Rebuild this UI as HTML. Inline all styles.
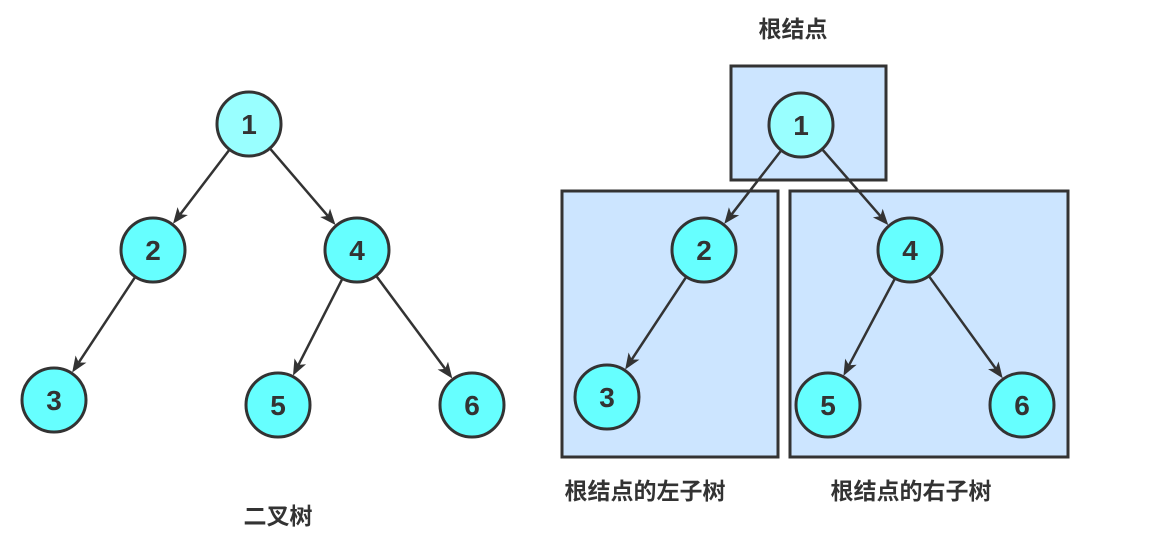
<!DOCTYPE html>
<html><head><meta charset="utf-8"><style>
html,body{margin:0;padding:0;background:#fff;}
svg{display:block;}
text{font-family:"Liberation Sans","Noto Sans CJK SC",sans-serif;font-weight:bold;fill:#333;}
</style></head><body>
<svg id="s" width="1175" height="548" viewBox="0 0 1175 548" xmlns="http://www.w3.org/2000/svg">
<rect x="731" y="66" width="155" height="114" fill="#cce5ff" stroke="#333" stroke-width="3"/>
<rect x="562" y="191" width="216" height="266" fill="#cce5ff" stroke="#333" stroke-width="3"/>
<rect x="790" y="191" width="278" height="266" fill="#cce5ff" stroke="#333" stroke-width="3"/>
<g id="edges"></g>
<g id="nodes"></g>
<text x="793" y="37" font-size="23" text-anchor="middle">根结点</text>
<text x="278" y="524" font-size="23" text-anchor="middle">二叉树</text>
<text x="645" y="499" font-size="23" text-anchor="middle">根结点的左子树</text>
<text x="911" y="499" font-size="23" text-anchor="middle">根结点的右子树</text>
</svg>
<script>
var N={a1:[249,124,'1',1],a2:[153,250,'2'],a4:[357,250,'4'],a3:[54,400,'3'],a5:[278,405,'5'],a6:[472,405,'6'],
b1:[801,125,'1',1],b2:[704,250,'2'],b4:[910,250,'4'],b3:[607,397,'3'],b5:[828,405,'5'],b6:[1022,405,'6']};
var E=[['a1','a2'],['a1','a4'],['a2','a3'],['a4','a5'],['a4','a6'],['b1','b2'],['b1','b4'],['b2','b3'],['b4','b5'],['b4','b6']];
var R=32,ns='http://www.w3.org/2000/svg',eg=document.getElementById('edges'),ng=document.getElementById('nodes');
function el(t,a,p){var e=document.createElementNS(ns,t);for(var k in a)e.setAttribute(k,a[k]);p.appendChild(e);return e;}
E.forEach(function(e){var A=N[e[0]],B=N[e[1]];var dx=B[0]-A[0],dy=B[1]-A[1],L=Math.hypot(dx,dy),ux=dx/L,uy=dy/L;
var x1=A[0]+ux*R,y1=A[1]+uy*R,x2=B[0]-ux*(R+1),y2=B[1]-uy*(R+1);
var bx=x2-ux*16,by=y2-uy*16,px=-uy,py=ux;
el('line',{x1:x1,y1:y1,x2:bx+ux*4,y2:by+uy*4,stroke:'#333','stroke-width':2.5},eg);
el('polygon',{points:x2+','+y2+' '+(bx+px*6.5)+','+(by+py*6.5)+' '+(bx+ux*4)+','+(by+uy*4)+' '+(bx-px*6.5)+','+(by-py*6.5),fill:'#333'},eg);});
for(var k in N){var n=N[k];el('circle',{cx:n[0],cy:n[1],r:R,fill:n[3]?'#99ffff':'#66ffff',stroke:'#333','stroke-width':3},ng);
var t=el('text',{x:n[0],y:n[1]+10,'font-size':28,'text-anchor':'middle'},ng);t.textContent=n[2];}
</script>
</body></html>
